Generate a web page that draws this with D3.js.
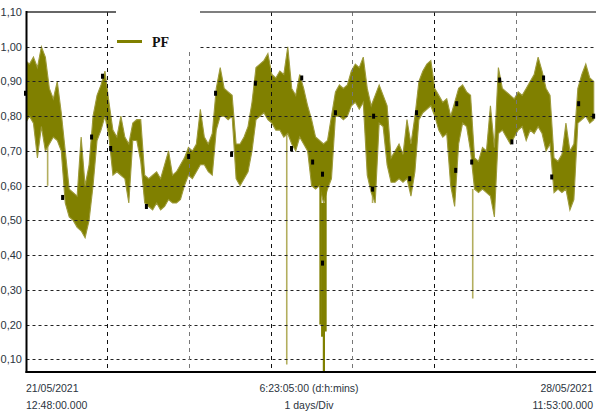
<!DOCTYPE html>
<html><head><meta charset="utf-8">
<script src="https://cdn.jsdelivr.net/npm/d3@7"></script>
<style>body{margin:0;background:#fff}svg{display:block}</style>
</head><body>
<svg id="c" width="596" height="412"></svg>
<script>
// ---- data ----
const startTime = new Date(2021, 4, 21, 12, 48);
const endTime = new Date(2021, 4, 28, 11, 53);
const sampleMinutes = 70;
const seriesName = "PF";
const pfHigh = [
 0.96,0.95,0.97,0.94,1.00,0.97,0.88,0.85,0.90,0.81,
 0.70,0.59,0.58,0.57,0.74,0.60,0.66,0.80,0.86,0.89,
 0.93,0.84,0.76,0.74,0.80,0.74,0.72,0.78,0.79,0.79,
 0.63,0.62,0.63,0.64,0.62,0.66,0.70,0.63,0.64,0.66,
 0.68,0.71,0.70,0.72,0.82,0.74,0.72,0.75,0.88,0.94,
 0.88,0.87,0.86,0.72,0.72,0.74,0.77,0.84,0.94,0.95,
 0.96,0.98,0.92,0.91,0.93,0.92,1.00,0.88,0.86,0.92,
 0.88,0.83,0.79,0.74,0.73,0.72,0.73,0.80,0.87,0.89,
 0.88,0.89,0.93,0.95,0.94,0.97,0.88,0.83,0.86,0.89,
 0.86,0.83,0.68,0.70,0.72,0.69,0.79,0.72,0.80,0.90,
 0.93,0.95,0.96,0.88,0.86,0.84,0.85,0.80,0.84,0.88,
 0.89,0.87,0.86,0.68,0.67,0.71,0.70,0.83,0.71,0.94,
 0.88,0.87,0.86,0.85,0.87,0.86,0.88,0.90,0.92,0.97,
 0.93,0.88,0.86,0.68,0.67,0.69,0.78,0.70,0.72,0.88,
 0.92,0.95,0.91,0.90
];
const pfLow = [
 0.78,0.80,0.78,0.68,0.77,0.70,0.72,0.74,0.73,0.70,
 0.55,0.51,0.50,0.48,0.47,0.45,0.50,0.60,0.73,0.76,
 0.80,0.74,0.63,0.64,0.63,0.62,0.55,0.73,0.73,0.67,
 0.55,0.54,0.53,0.55,0.53,0.54,0.56,0.55,0.55,0.56,
 0.60,0.63,0.62,0.64,0.66,0.66,0.64,0.63,0.76,0.80,
 0.80,0.79,0.80,0.62,0.60,0.62,0.64,0.70,0.79,0.80,
 0.81,0.79,0.78,0.76,0.76,0.74,0.75,0.72,0.70,0.74,
 0.72,0.70,0.60,0.59,0.60,0.55,0.59,0.62,0.80,0.80,
 0.79,0.80,0.83,0.84,0.82,0.84,0.63,0.58,0.55,0.78,
 0.77,0.66,0.61,0.61,0.62,0.61,0.62,0.57,0.64,0.79,
 0.81,0.82,0.83,0.80,0.76,0.74,0.75,0.60,0.54,0.72,
 0.78,0.77,0.70,0.59,0.58,0.59,0.58,0.57,0.51,0.75,
 0.76,0.74,0.72,0.74,0.76,0.77,0.73,0.76,0.75,0.77,
 0.75,0.70,0.72,0.58,0.59,0.58,0.59,0.53,0.56,0.78,
 0.79,0.80,0.78,0.79
];
const markerHours  = [0,10.9,19.4,22.6,25.0,35.5,47.9,55.8,60.5,67.5,78.1,81.1,84.3,87.2,87.2,91.0,101.9,102.2,112.8,114.8,126.3,126.6,131.0,139.2,142.8,152.1,154.5,162.4,166.8];
const markerValues = [0.866,0.566,0.74,0.915,0.707,0.54,0.684,0.866,0.69,0.895,0.707,0.91,0.668,0.633,0.377,0.81,0.59,0.80,0.62,0.81,0.644,0.836,0.668,0.904,0.726,0.91,0.625,0.836,0.80];
const lightSpikeHours  = [6.5,76.7,101.9,125.7,131.3,138.0,160.1];
const lightSpikeValues = [0.60,0.085,0.55,0.54,0.275,0.51,0.53];
const darkSpikeHours  = [86.6,87.1,87.6,88.1];
const darkSpikeValues = [0.20,0.165,0.065,0.18];
const yTicks = [0.1,0.2,0.3,0.4,0.5,0.6,0.7,0.8,0.9,1.0,1.1];
const yTickLabels = ["0,10","0,20","0,30","0,40","0,50","0,60","0,70","0,80","0,90","1,00","1,10"];
const xLabelsLeft = ["21/05/2021","12:48:00.000"];
const xLabelsCenter = ["6:23:05:00 (d:h:mins)","1 days/Div"];
const xLabelsRight = ["28/05/2021","11:53:00.000"];
const gridDays = [1,2,3,4,5,6];

// ---- chart ----
(function () {
const svg = d3.select("#c");
const x = d3.scaleTime().domain([startTime, endTime]).range([25.5, 594.6]);
const y = d3.scaleLinear().domain([0.1, 1.1]).range([359.3, 12]);
const pL = 26.5, pT = 12, pB = 372, pR = 596;
const hourToDate = h => new Date(startTime.getTime() + h * 3600000);
const sampleDate = i => new Date(startTime.getTime() + i * sampleMinutes * 60000);

svg.append("clipPath").attr("id","plot").append("rect")
  .attr("x", pL).attr("y", pT).attr("width", pR-pL).attr("height", pB-pT);

const gData = svg.append("g").attr("clip-path","url(#plot)");
const idx = d3.range(pfHigh.length);

const nearestLow = h => pfLow[Math.max(0, Math.min(pfLow.length-1, Math.round(h*60/sampleMinutes)))];
gData.selectAll("line.ls").data(lightSpikeHours).join("line")
  .attr("x1", h => x(hourToDate(h))).attr("x2", h => x(hourToDate(h)))
  .attr("y1", h => y(nearestLow(h))).attr("y2", (h,i) => y(lightSpikeValues[i]))
  .attr("stroke","#b3ae5e").attr("stroke-width",1.6);

const area = d3.area()
  .x(i => x(sampleDate(i)))
  .y0(i => y(pfLow[i]))
  .y1(i => y(pfHigh[i]));
gData.append("path").datum(idx).attr("d", area)
  .attr("fill","#808000").attr("stroke","#9d9a3a").attr("stroke-width",1.1);

gData.selectAll("line.ds").data(darkSpikeHours).join("line")
  .attr("x1", h => x(hourToDate(h))).attr("x2", h => x(hourToDate(h)))
  .attr("y1", h => y(nearestLow(h))).attr("y2", (h,i) => y(darkSpikeValues[i]))
  .attr("stroke","#808000").attr("stroke-width",2.2);

const gGrid = svg.append("g");
gGrid.selectAll("line.h").data(yTicks.filter(v => v < 1.05)).join("line")
  .attr("x1", pL).attr("x2", pR)
  .attr("y1", v => Math.round(y(v))+0.5).attr("y2", v => Math.round(y(v))+0.5)
  .attr("stroke","#222").attr("stroke-width",1).attr("stroke-dasharray","3,3");
gGrid.selectAll("line.v").data(gridDays).join("line")
  .attr("x1", d => Math.round(x(d3.timeDay.offset(startTime, d)))+0.5)
  .attr("x2", d => Math.round(x(d3.timeDay.offset(startTime, d)))+0.5)
  .attr("y1", pT).attr("y2", pB)
  .attr("stroke", (d,i) => i % 2 === 0 ? "#111" : "#777")
  .attr("stroke-width",1).attr("stroke-dasharray","4,4");

svg.append("g").selectAll("rect").data(markerHours).join("rect")
  .attr("x", h => x(hourToDate(h)) - 1.5)
  .attr("y", (h,i) => y(markerValues[i]) - 2.5)
  .attr("width",3).attr("height",5).attr("fill","#000");

svg.append("rect").attr("x",116).attr("y",0).attr("width",84).attr("height",49).attr("fill","#fff");
svg.append("line").attr("x1",117).attr("x2",142).attr("y1",41.5).attr("y2",41.5)
  .attr("stroke","#808000").attr("stroke-width",3);
svg.append("text").attr("x",152).attr("y",47).text(seriesName)
  .attr("font-family","Liberation Serif, serif").attr("font-weight","bold")
  .attr("font-size",14).attr("fill","#111");

svg.append("line").attr("x1",pL).attr("x2",116).attr("y1",pT).attr("y2",pT)
  .attr("stroke","#333").attr("stroke-width",1.6);
svg.append("line").attr("x1",200).attr("x2",pR).attr("y1",pT).attr("y2",pT)
  .attr("stroke","#555").attr("stroke-width",1.6);
svg.append("line").attr("x1",pL).attr("x2",pL).attr("y1",pT-1).attr("y2",pB+1)
  .attr("stroke","#000").attr("stroke-width",2);
svg.append("line").attr("x1",pL-1).attr("x2",pR).attr("y1",pB).attr("y2",pB)
  .attr("stroke","#000").attr("stroke-width",2);

const font = "Liberation Sans, Arial, sans-serif";
svg.append("g").selectAll("text").data(yTicks).join("text")
  .attr("x", 22).attr("y", v => y(v) + 4)
  .attr("text-anchor","end").attr("font-family",font).attr("font-size",11)
  .attr("fill","#2b3440").text((v,i) => yTickLabels[i]);

const xl = (arr, xp, anchor) => arr.forEach((t,i) => svg.append("text")
  .attr("x", xp).attr("y", 392 + i*17).attr("text-anchor", anchor)
  .attr("font-family", font).attr("font-size", 10.5).attr("fill","#2b3440")
  .text(t));
xl(xLabelsLeft, 26, "start");
xl(xLabelsCenter, 309, "middle");
xl(xLabelsRight, 593, "end");
})();
</script>
</body></html>
